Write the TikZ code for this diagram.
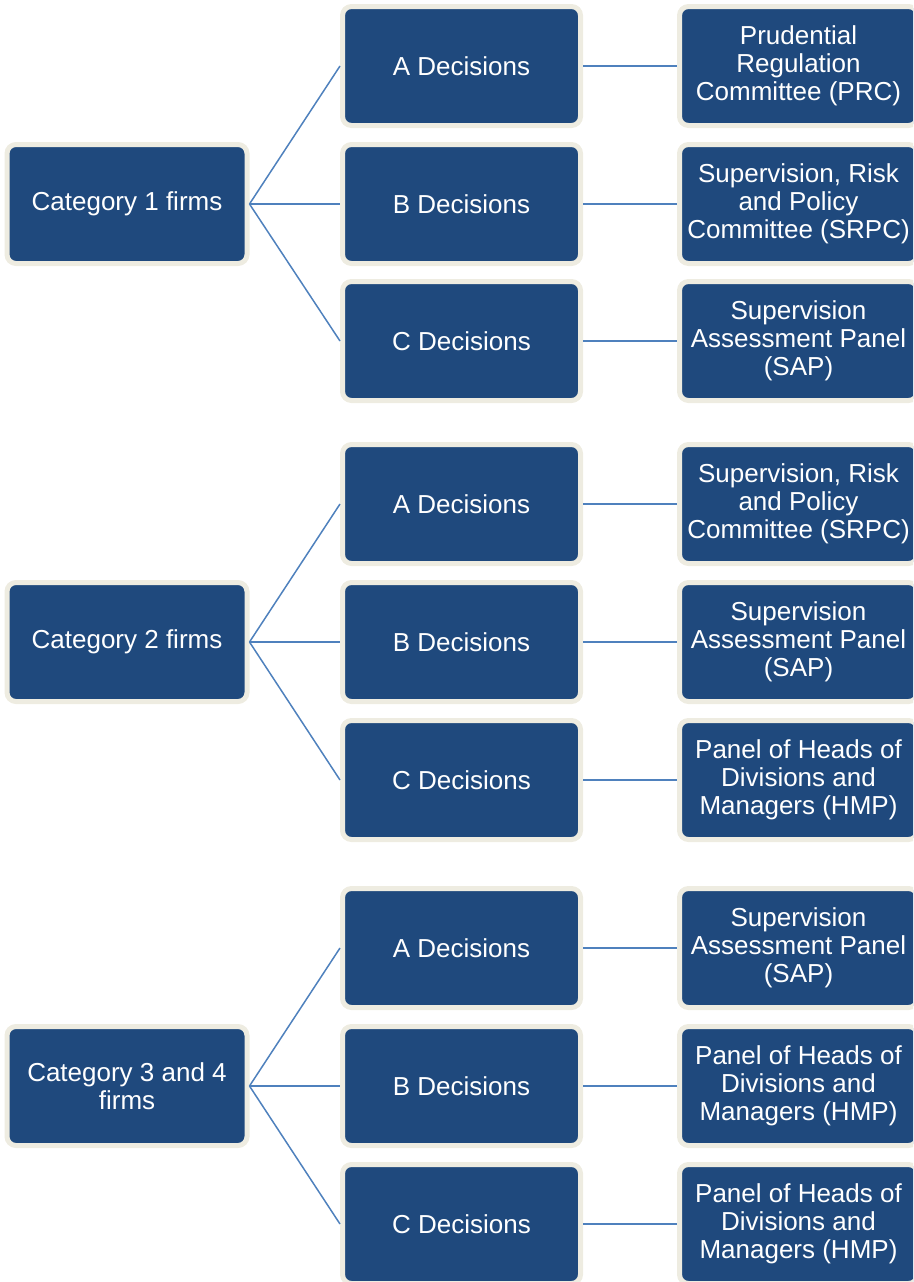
\documentclass[tikz,border=0pt]{standalone}
\usepackage{fontspec}
\setmainfont{Liberation Sans}
\definecolor{boxblue}{HTML}{1F497D}
\definecolor{boxrim}{HTML}{EEECE1}
\definecolor{linkblue}{HTML}{4F81BD}
\begin{document}
\begin{tikzpicture}[x=1pt,y=-1pt,
  box/.style={draw=boxrim, fill=boxblue, line width=5pt, rounded corners=9pt,
    text=white, align=center, inner sep=0pt,
    font=\fontsize{26}{28}\selectfont, minimum height=119pt},
  catbox/.style={box, minimum width=240pt},
  decbox/.style={box, minimum width=238pt},
  panbox/.style={box, minimum width=238pt},
  link/.style={draw=linkblue, line width=1.5pt}]
\useasboundingbox (0,0) rectangle (913,1282);
\clip (0,0) rectangle (913,1282);
% group 1
\node[catbox] (c1) at (127,204) {Category 1 firms};
\node[decbox] (c1a) at (461.5,66) {A Decisions};
\node[decbox] (c1b) at (461.5,204) {B Decisions};
\node[decbox] (c1c) at (461.5,341) {C Decisions};
\node[panbox] (p1a) at (798.5,66) {Prudential\\Regulation\\Committee (PRC)};
\node[panbox] (p1b) at (798.5,204) {Supervision, Risk\\and Policy\\Committee (SRPC)};
\node[panbox] (p1c) at (798.5,341) {Supervision\\Assessment Panel\\(SAP)};
% group 2
\node[catbox] (c2) at (127,642) {Category 2 firms};
\node[decbox] (c2a) at (461.5,504) {A Decisions};
\node[decbox] (c2b) at (461.5,642) {B Decisions};
\node[decbox] (c2c) at (461.5,780) {C Decisions};
\node[panbox] (p2a) at (798.5,504) {Supervision, Risk\\and Policy\\Committee (SRPC)};
\node[panbox] (p2b) at (798.5,642) {Supervision\\Assessment Panel\\(SAP)};
\node[panbox] (p2c) at (798.5,780) {Panel of Heads of\\Divisions and\\Managers (HMP)};
% group 3
\node[catbox] (c3) at (127,1086) {Category 3 and 4\\firms};
\node[decbox] (c3a) at (461.5,948) {A Decisions};
\node[decbox] (c3b) at (461.5,1086) {B Decisions};
\node[decbox] (c3c) at (461.5,1224) {C Decisions};
\node[panbox] (p3a) at (798.5,948) {Supervision\\Assessment Panel\\(SAP)};
\node[panbox] (p3b) at (798.5,1086) {Panel of Heads of\\Divisions and\\Managers (HMP)};
\node[panbox] (p3c) at (798.5,1224) {Panel of Heads of\\Divisions and\\Managers (HMP)};
% connectors
\foreach \g in {1,2,3}{
  \foreach \d in {a,b,c}{
    \draw[link] (c\g.east) -- (c\g\d.west);
    \draw[link] (c\g\d.east) -- (p\g\d.west);
  }
}
\end{tikzpicture}
\end{document}
